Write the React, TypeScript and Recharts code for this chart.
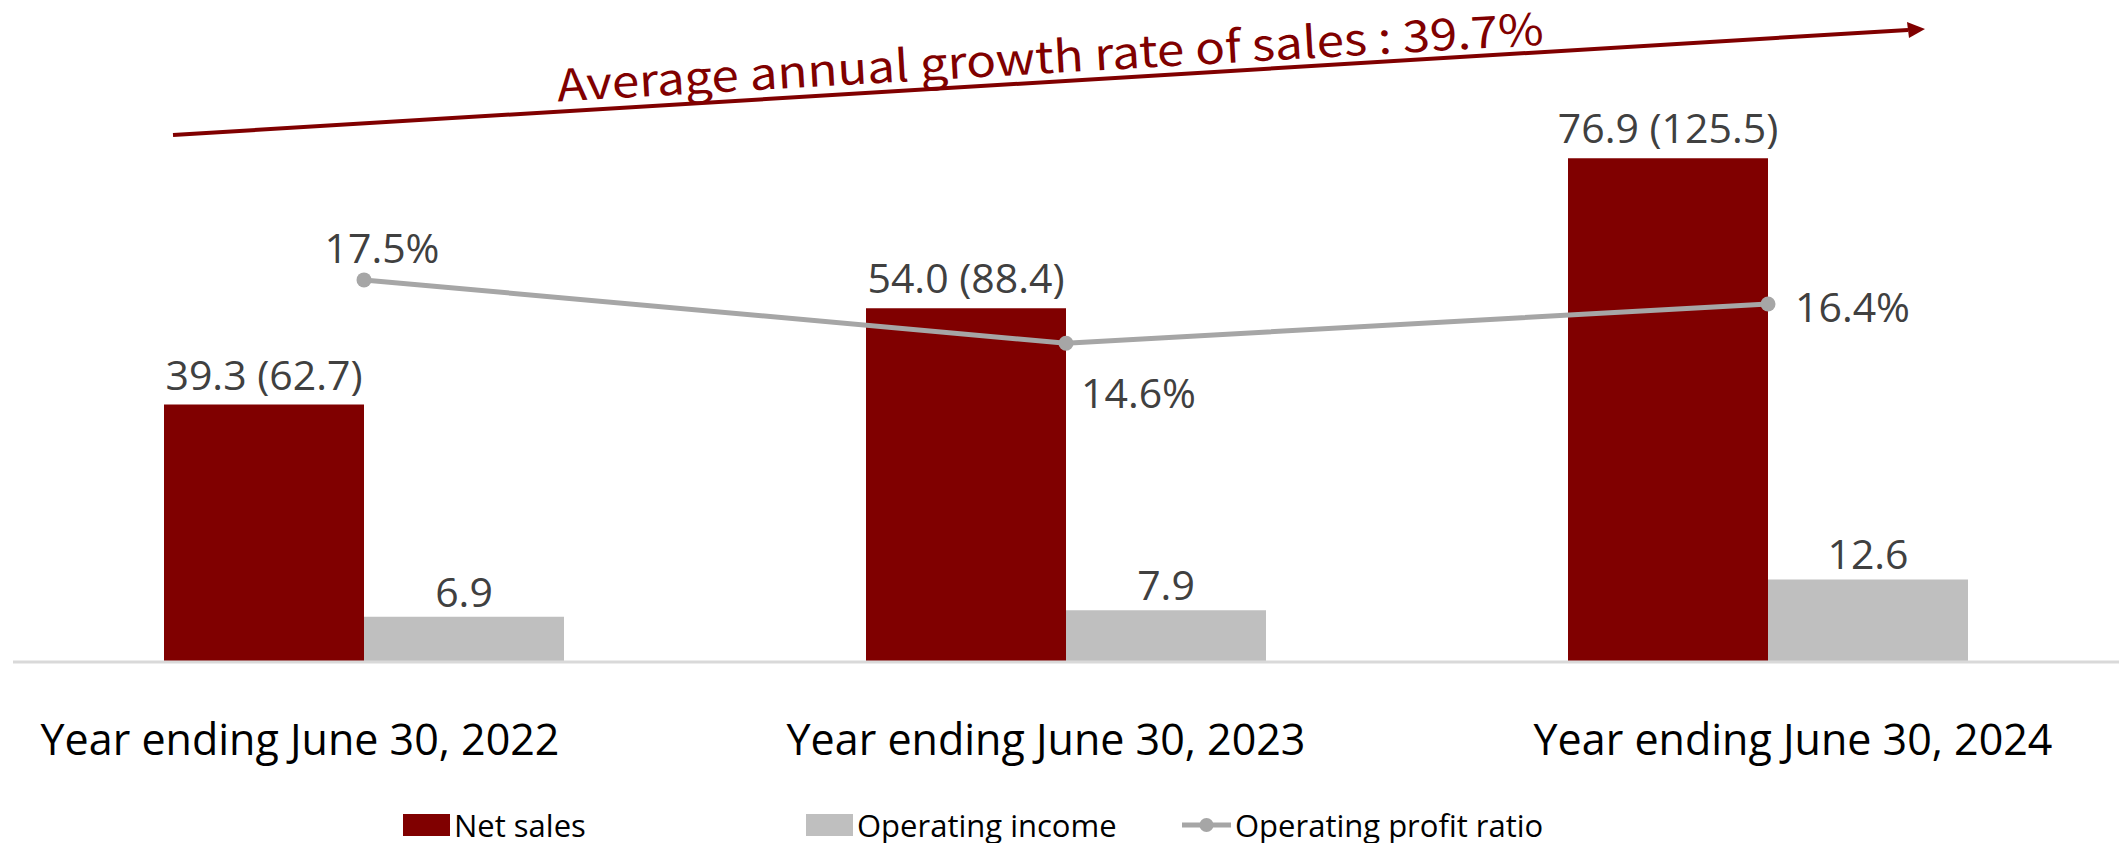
import {
  ComposedChart,
  Bar,
  Line,
  XAxis,
  YAxis,
  Legend,
  LabelList,
} from 'recharts';

const categories = ['Year ending June 30, 2022', 'Year ending June 30, 2023', 'Year ending June 30, 2024'];
const netSales = [39.3, 54.0, 76.9];
const netSalesBracket = [62.7, 88.4, 125.5];
const operatingIncome = [6.9, 7.9, 12.6];
const operatingProfitRatio = [17.5, 14.6, 16.4];
const growthNote = 'Average annual growth rate of sales : 39.7%';

const data = categories.map((name, i) => ({
  name,
  netSales: netSales[i],
  salesLabel: `${netSales[i].toFixed(1)} (${netSalesBracket[i].toFixed(1)})`,
  operatingIncome: operatingIncome[i],
  ratio: operatingProfitRatio[i],
}));

const W = 2121;
const H = 843;
const RED = '#800000';
const GREY_BAR = '#bfbfbf';
const GREY_LINE = '#a6a6a6';
const LABEL = '#404040';
const FONT = '"Open Sans", "Noto Sans", sans-serif';

// excel puts the category labels a bit off the band centres
const tickShift = [-64, -20, 25];

const CategoryTick = (props: any) => {
  const { x, y, payload, index } = props;
  return (
    <text x={x + (tickShift[index] ?? 0)} y={y + 93} textAnchor="middle" fontSize={43} fontFamily={FONT} fill="#000">
      {payload.value}
    </text>
  );
};

// where each ratio label sits relative to its point
const ratioPlacement = [
  { dx: 18, dy: -17, anchor: 'middle' },
  { dx: 15, dy: 65, anchor: 'start' },
  { dx: 27, dy: 18, anchor: 'start' },
];

const RatioLabel = (props: any) => {
  const { x, y, value, index } = props;
  const p = ratioPlacement[index] ?? ratioPlacement[0];
  return (
    <text x={x + p.dx} y={y + p.dy} textAnchor={p.anchor} fontSize={41} fontFamily={FONT} fill={LABEL}>
      {`${Number(value).toFixed(1)}%`}
    </text>
  );
};

const legendSlots: Record<string, number> = { netSales: 403, operatingIncome: 806, ratio: 1182 };

const LegendContent = (props: any) => {
  const { payload = [] } = props;
  return (
    <div style={{ position: 'relative', width: W, height: 50 }}>
      {payload.map((item: any) => {
        const left = legendSlots[item.dataKey] ?? 0;
        const isLine = item.dataKey === 'ratio';
        return (
          <div
            key={item.dataKey}
            style={{
              position: 'absolute',
              left,
              top: 15,
              display: 'flex',
              alignItems: 'center',
              height: 34,
              fontFamily: FONT,
              fontSize: 31,
              color: '#000',
              whiteSpace: 'nowrap',
            }}
          >
            {isLine ? (
              <svg width={49} height={22} style={{ marginRight: 4 }}>
                <line x1={0} y1={11} x2={49} y2={11} stroke={GREY_LINE} strokeWidth={5} />
                <circle cx={24.5} cy={11} r={7} fill={GREY_LINE} />
              </svg>
            ) : (
              <span style={{ display: 'inline-block', width: 47, height: 22, background: item.color, marginRight: 4 }} />
            )}
            <span>{item.value}</span>
          </div>
        );
      })}
    </div>
  );
};

export default function App() {
  return (
    <div style={{ position: 'absolute', left: 0, top: 0, width: W, height: H, background: '#fff' }}>
      <ComposedChart
        width={W}
        height={H}
        data={data}
        margin={{ top: 7, right: 2, left: 13, bottom: 0 }}
        barGap={0}
        barCategoryGap={151}
      >
        <XAxis
          dataKey="name"
          xAxisId={0}
          height={131}
          tickLine={false}
          tickSize={0}
          tickMargin={0}
          axisLine={{ stroke: '#d9d9d9', strokeWidth: 3 }}
          tick={<CategoryTick />}
          interval={0}
        />
        <YAxis yAxisId="left" domain={[0, 100]} hide />
        <YAxis yAxisId="right" orientation="right" domain={[0, 30]} hide />
        <Legend
          verticalAlign="bottom"
          content={<LegendContent />}
          wrapperStyle={{ left: 0, width: W, bottom: 0, height: 50 }}
        />
        <Bar yAxisId="left" dataKey="netSales" name="Net sales" fill={RED} barSize={200} isAnimationActive={false}>
          <LabelList dataKey="salesLabel" position="top" offset={15} fill={LABEL} fontSize={41} fontFamily={FONT} />
        </Bar>
        <Bar yAxisId="left" dataKey="operatingIncome" name="Operating income" fill={GREY_BAR} barSize={200} isAnimationActive={false}>
          <LabelList dataKey="operatingIncome" position="top" offset={10} fill={LABEL} fontSize={41} fontFamily={FONT} formatter={(v: any) => Number(v).toFixed(1)} />
        </Bar>
        <Line
          yAxisId="right"
          dataKey="ratio"
          name="Operating profit ratio"
          stroke={GREY_LINE}
          strokeWidth={5}
          dot={{ r: 7.5, fill: GREY_LINE, stroke: GREY_LINE, strokeWidth: 0 }}
          activeDot={false}
          isAnimationActive={false}
        >
          <LabelList dataKey="ratio" content={<RatioLabel />} />
        </Line>
      </ComposedChart>
      <svg width={W} height={H} style={{ position: 'absolute', left: 0, top: 0, pointerEvents: 'none' }}>
        <line x1={173} y1={135} x2={1908} y2={30} stroke={RED} strokeWidth={4} />
        <polygon points="1925,29 1907,22 1909,38" fill={RED} />
        <text
          x={1051}
          y={73}
          textAnchor="middle"
          transform="rotate(-3.3 1051 73)"
          fontSize={44}
          fontFamily='"Noto Sans CJK JP", "Noto Sans", sans-serif'
          fill={RED}
          textLength={988}
          lengthAdjust="spacingAndGlyphs"
        >
          {growthNote}
        </text>
      </svg>
    </div>
  );
}
